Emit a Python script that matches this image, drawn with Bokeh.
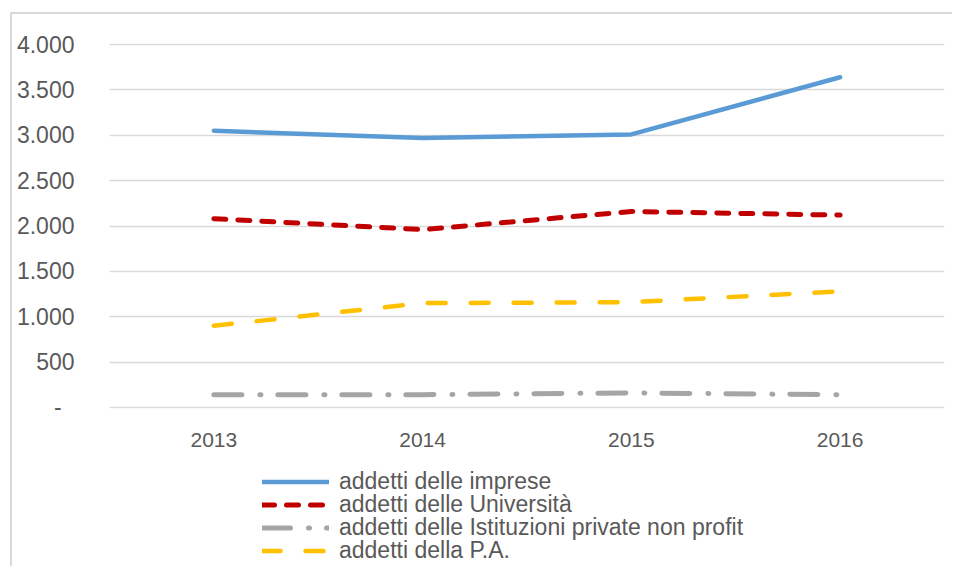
from bokeh.plotting import figure
from bokeh.models import (FactorRange, Range1d, FixedTicker, Legend, LegendItem)
from bokeh.layouts import column
from bokeh.embed import file_html
from bokeh.resources import INLINE

years = ["2013", "2014", "2015", "2016"]
imprese = [3050, 2970, 3010, 3640]
universita = [2080, 1960, 2160, 2120]
nonprofit = [140, 140, 160, 140]
pa = [900, 1150, 1160, 1280]

series_names = [
    "addetti delle imprese",
    "addetti delle Università",
    "addetti delle Istituzioni private non profit",
    "addetti della P.A.",
]
y_ticks = [0, 500, 1000, 1500, 2000, 2500, 3000, 3500, 4000]
y_tick_labels = ["-\u00a0\u00a0", "500", "1.000", "1.500", "2.000", "2.500", "3.000", "3.500", "4.000"]

TEXT = "#595959"
FONT = "Liberation Sans"

styles = [
    dict(line_color="#5b9bd5", line_width=4.5, line_cap="round", line_join="round"),
    dict(line_color="#c00000", line_width=5, line_cap="round", line_join="round", line_dash="12 12"),
    dict(line_color="#a5a5a5", line_width=5, line_cap="round", line_join="round", line_dash="28 18 1 17"),
    dict(line_color="#ffc000", line_width=4.5, line_cap="round", line_join="round", line_dash="18 25"),
]
series = [imprese, universita, nonprofit, pa]

p = figure(
    x_range=FactorRange(*years),
    y_range=Range1d(-12, 4012),
    width=940, height=445,
    output_backend="svg", toolbar_location=None,
    min_border_left=97, min_border_right=8, min_border_top=29, min_border_bottom=51,
    outline_line_color=None,
    background_fill_color="white", border_fill_color="white",
)

p.xgrid.grid_line_color = None
p.ygrid.grid_line_color = "#d9d9d9"
p.ygrid.grid_line_width = 1.3

p.yaxis.ticker = FixedTicker(ticks=y_ticks)
p.yaxis.major_label_overrides = {t: l for t, l in zip(y_ticks, y_tick_labels)}
p.yaxis.axis_line_color = None
p.yaxis.major_tick_line_color = None
p.yaxis.minor_tick_line_color = None
p.yaxis.major_label_standoff = 29
p.yaxis.major_label_text_font_size = "23px"
p.yaxis.major_label_text_color = TEXT
p.yaxis.major_label_text_font = FONT

p.xaxis.axis_line_color = None
p.xaxis.major_tick_line_color = None
p.xaxis.minor_tick_line_color = None
p.xaxis.major_label_standoff = 18
p.xaxis.major_label_text_font_size = "21px"
p.xaxis.major_label_text_color = TEXT
p.xaxis.major_label_text_font = FONT

for ys, st in zip(series, styles):
    p.line(years, ys, **st)

# legend strip below the chart: same series, drawn off-range so only the legend shows
lg = figure(
    x_range=FactorRange(*years), y_range=Range1d(-2, -1),
    x_axis_type=None, y_axis_type=None,
    width=940, height=107,
    output_backend="svg", toolbar_location=None,
    min_border=0, outline_line_color=None,
    background_fill_color="white", border_fill_color="white",
)
lg.grid.visible = False
legend_renderers = [lg.line(years, ys, **st) for ys, st in zip(series, styles)]

row_offsets = [71.5, 48.5, 25.5, 2.5]
for name, r, vy in zip(series_names, legend_renderers, row_offsets):
    leg = Legend(
        items=[LegendItem(label=name, renderers=[r])],
        location=(153, vy),
        orientation="vertical",
        glyph_width=67, glyph_height=23, label_height=23,
        label_standoff=10, spacing=0, padding=0, margin=0,
        label_text_font_size="23px", label_text_color=TEXT, label_text_font=FONT,
        border_line_color=None, background_fill_alpha=0,
    )
    lg.add_layout(leg, "center")

layout = column(p, lg, margin=(12, 0, 0, 10),
                styles={"border-left": "2px solid #d9d9d9", "border-top": "2px solid #d9d9d9"})

open("out.html", "w").write(file_html(layout, INLINE))
